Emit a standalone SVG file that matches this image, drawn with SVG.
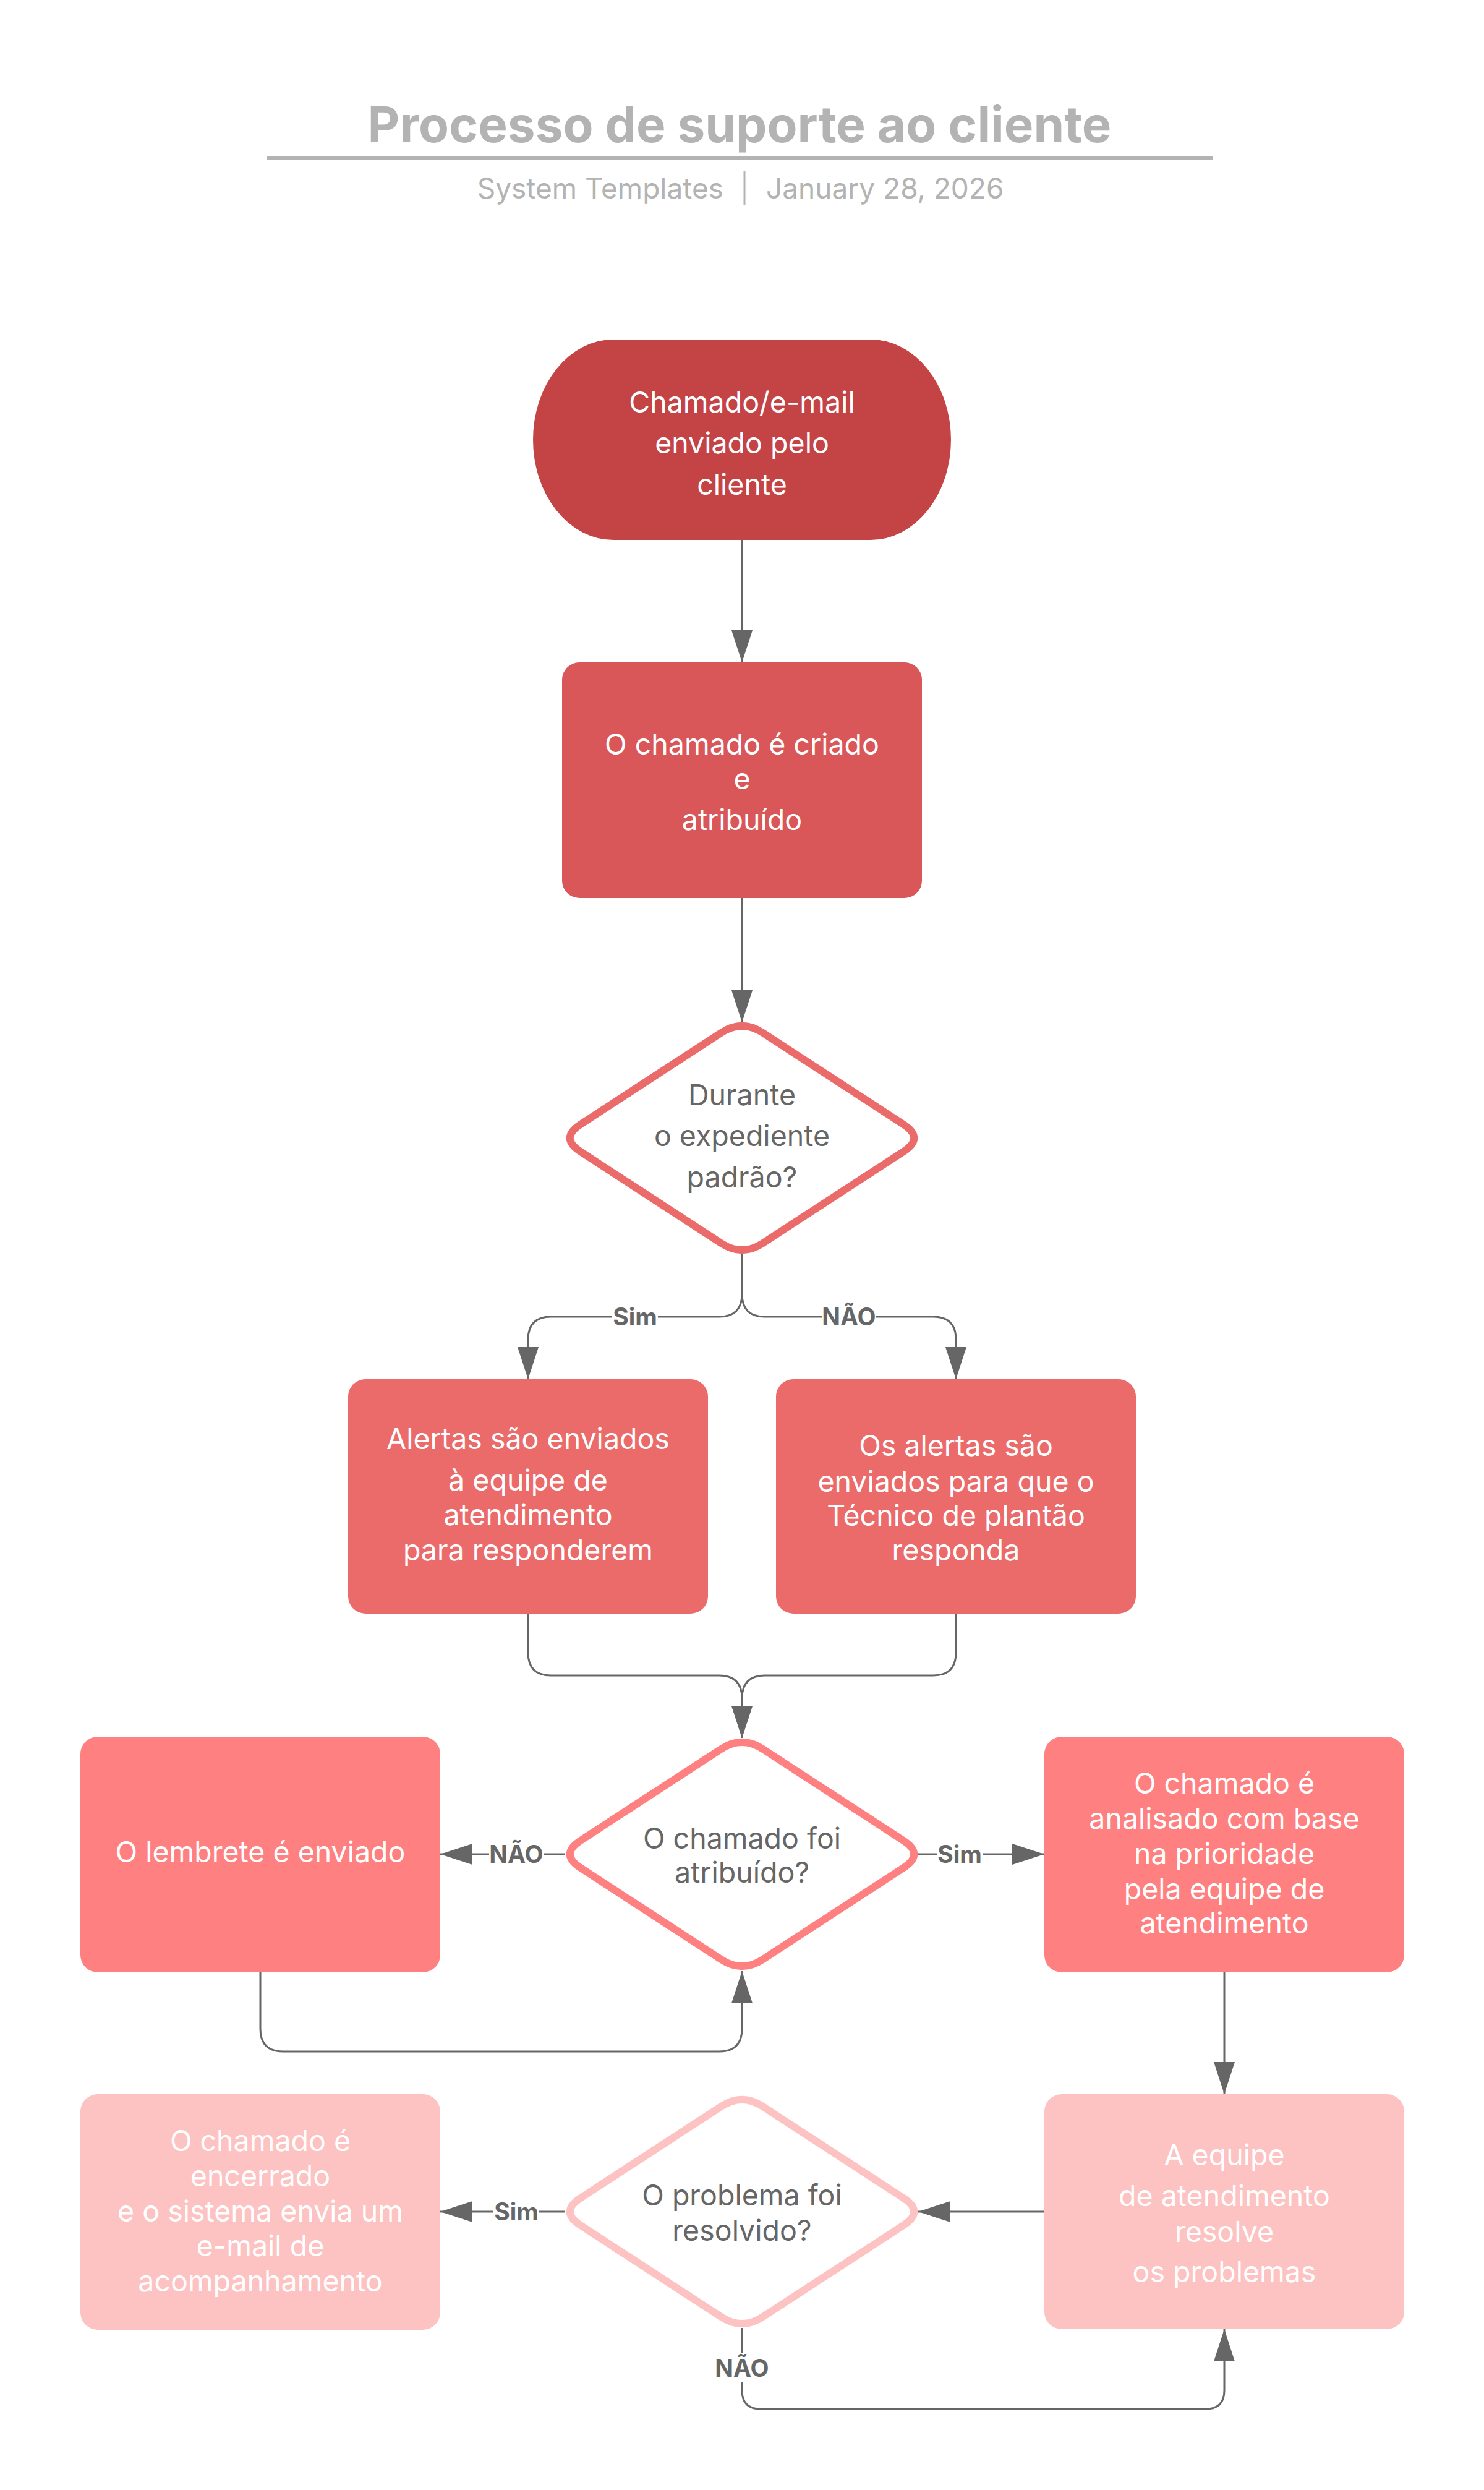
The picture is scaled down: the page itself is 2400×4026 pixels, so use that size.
<svg xmlns="http://www.w3.org/2000/svg" width="2400" height="4026" viewBox="0 0 2400 4026">
<style>
text{font-family:Inter,"Liberation Sans",sans-serif}
.t{font-size:46.5px;text-anchor:middle;fill:#ffffff}
.g{font-size:46.5px;text-anchor:middle;fill:#666666}
.lb{font-size:39px;font-weight:700;text-anchor:middle;fill:#666666}
.c{fill:none;stroke:#666666;stroke-width:3}
.a{marker-end:url(#ah)}
</style>
<defs>
<marker id="ah" markerUnits="userSpaceOnUse" markerWidth="52" markerHeight="34" refX="52" refY="17" orient="auto">
<path d="M0 0 L52 17 L0 34 Z" fill="#666666"/>
</marker>
<path id="dia" d="M -33.5 -170.2 Q 0 -192 33.5 -170.2 L 261.5 -21.8 Q 295 0 261.5 21.8 L 33.5 170.2 Q 0 192 -33.5 170.2 L -261.5 21.8 Q -295 0 -261.5 -21.8 Z"/>
</defs>
<rect width="2400" height="4026" fill="#ffffff"/>
<g id="header">
<text x="1196" y="230" style="font-size:80px;font-weight:700;fill:#b3b3b3;text-anchor:middle">Processo de suporte ao cliente</text>
<line x1="431" y1="255" x2="1961" y2="255" stroke="#b3b3b3" stroke-width="6"/>
<text x="1170" y="321" style="font-size:46px;fill:#b3b3b3;text-anchor:end">System Templates</text>
<line x1="1204" y1="277" x2="1204" y2="332" stroke="#b3b3b3" stroke-width="3"/>
<text x="1239" y="321" style="font-size:46px;fill:#b3b3b3">January 28, 2026</text>
</g>
<g id="connectors">
<path class="c a" d="M1200 873 L1200 1071"/>
<path class="c a" d="M1200 1452 L1200 1653"/>
<path class="c a" d="M1200 2028 L1200 2092 Q1200 2129 1163 2129 L891 2129 Q854 2129 854 2166 L854 2230"/>
<path class="c a" d="M1200 2028 L1200 2092 Q1200 2129 1237 2129 L1509 2129 Q1546 2129 1546 2166 L1546 2230"/>
<path class="c a" d="M854 2609 L854 2672 Q854 2709 891 2709 L1163 2709 Q1200 2709 1200 2746 L1200 2810"/>
<path class="c a" d="M1546 2609 L1546 2672 Q1546 2709 1509 2709 L1237 2709 Q1200 2709 1200 2746 L1200 2810"/>
<path class="c a" d="M914 2998 L712 2998"/>
<path class="c a" d="M421 3189 L421 3280 Q421 3317 458 3317 L1163 3317 Q1200 3317 1200 3280 L1200 3187"/>
<path class="c a" d="M1484 2998 L1689 2998"/>
<path class="c a" d="M1980 3189 L1980 3386"/>
<path class="c a" d="M1689 3576 L1485 3576"/>
<path class="c a" d="M914 3576 L712 3576"/>
<path class="c a" d="M1200 3764 L1200 3865 Q1200 3895 1230 3895 L1950 3895 Q1980 3895 1980 3865 L1980 3766"/>
<rect x="990" y="2107" width="74" height="44" fill="#ffffff"/>
<text class="lb" x="1027" y="2143">Sim</text>
<rect x="1329" y="2107" width="88" height="44" fill="#ffffff"/>
<text class="lb" x="1373" y="2143">NÃO</text>
<rect x="791" y="2976" width="88" height="44" fill="#ffffff"/>
<text class="lb" x="835" y="3012">NÃO</text>
<rect x="1515" y="2976" width="74" height="44" fill="#ffffff"/>
<text class="lb" x="1552" y="3012">Sim</text>
<rect x="798" y="3554" width="74" height="44" fill="#ffffff"/>
<text class="lb" x="835" y="3590">Sim</text>
<rect x="1156" y="3805" width="88" height="46" fill="#ffffff"/>
<text class="lb" x="1200" y="3843">NÃO</text>
</g>
<g id="start">
<rect x="862" y="549" width="676" height="324" rx="130" ry="162" fill="#c44345"/>
<text class="t" x="1200" y="667">Chamado/e-mail</text>
<text class="t" x="1200" y="733">enviado pelo</text>
<text class="t" x="1200" y="800">cliente</text>
</g>
<g id="created">
<rect x="909" y="1071" width="582" height="381" rx="28" fill="#d95758"/>
<text class="t" x="1200" y="1220">O chamado é criado</text>
<text class="t" x="1200" y="1276">e</text>
<text class="t" x="1200" y="1342">atribuído</text>
</g>
<g id="decision-hours">
<use href="#dia" transform="translate(1200 1840)" fill="#ffffff" stroke="#eb6b6b" stroke-width="12"/>
<text class="g" x="1200" y="1787">Durante</text>
<text class="g" x="1200" y="1853">o expediente</text>
<text class="g" x="1200" y="1920">padrão?</text>
</g>
<g id="alerts-team">
<rect x="563" y="2230" width="582" height="379" rx="28" fill="#eb6b6b"/>
<text class="t" x="854" y="2343">Alertas são enviados</text>
<text class="t" x="854" y="2410">à equipe de</text>
<text class="t" x="854" y="2466">atendimento</text>
<text class="t" x="854" y="2523">para responderem</text>
</g>
<g id="alerts-oncall">
<rect x="1255" y="2230" width="582" height="379" rx="28" fill="#eb6b6b"/>
<text class="t" x="1546" y="2354">Os alertas são</text>
<text class="t" x="1546" y="2412">enviados para que o</text>
<text class="t" x="1546" y="2467">Técnico de plantão</text>
<text class="t" x="1546" y="2523">responda</text>
</g>
<g id="decision-assigned">
<use href="#dia" transform="translate(1200 2998)" fill="#ffffff" stroke="#ff8080" stroke-width="12"/>
<text class="g" x="1200" y="2989">O chamado foi</text>
<text class="g" x="1200" y="3044">atribuído?</text>
</g>
<g id="reminder">
<rect x="130" y="2808" width="582" height="381" rx="28" fill="#ff8080"/>
<text class="t" x="421" y="3011">O lembrete é enviado</text>
</g>
<g id="analyzed">
<rect x="1689" y="2808" width="582" height="381" rx="28" fill="#ff8080"/>
<text class="t" x="1980" y="2900">O chamado é</text>
<text class="t" x="1980" y="2957">analisado com base</text>
<text class="t" x="1980" y="3014">na prioridade</text>
<text class="t" x="1980" y="3071">pela equipe de</text>
<text class="t" x="1980" y="3126">atendimento</text>
</g>
<g id="resolves">
<rect x="1689" y="3386" width="582" height="380" rx="28" fill="#fdc2c2"/>
<text class="t" x="1980" y="3501">A equipe</text>
<text class="t" x="1980" y="3567">de atendimento</text>
<text class="t" x="1980" y="3625">resolve</text>
<text class="t" x="1980" y="3690">os problemas</text>
</g>
<g id="decision-resolved">
<use href="#dia" transform="translate(1200 3576)" fill="#ffffff" stroke="#fdc2c2" stroke-width="12"/>
<text class="g" x="1200" y="3566">O problema foi</text>
<text class="g" x="1200" y="3623">resolvido?</text>
</g>
<g id="closed">
<rect x="130" y="3386" width="582" height="381" rx="28" fill="#fdc2c2"/>
<text class="t" x="421" y="3478">O chamado é</text>
<text class="t" x="421" y="3535">encerrado</text>
<text class="t" x="421" y="3592">e o sistema envia um</text>
<text class="t" x="421" y="3648">e-mail de</text>
<text class="t" x="421" y="3705">acompanhamento</text>
</g>
</svg>
